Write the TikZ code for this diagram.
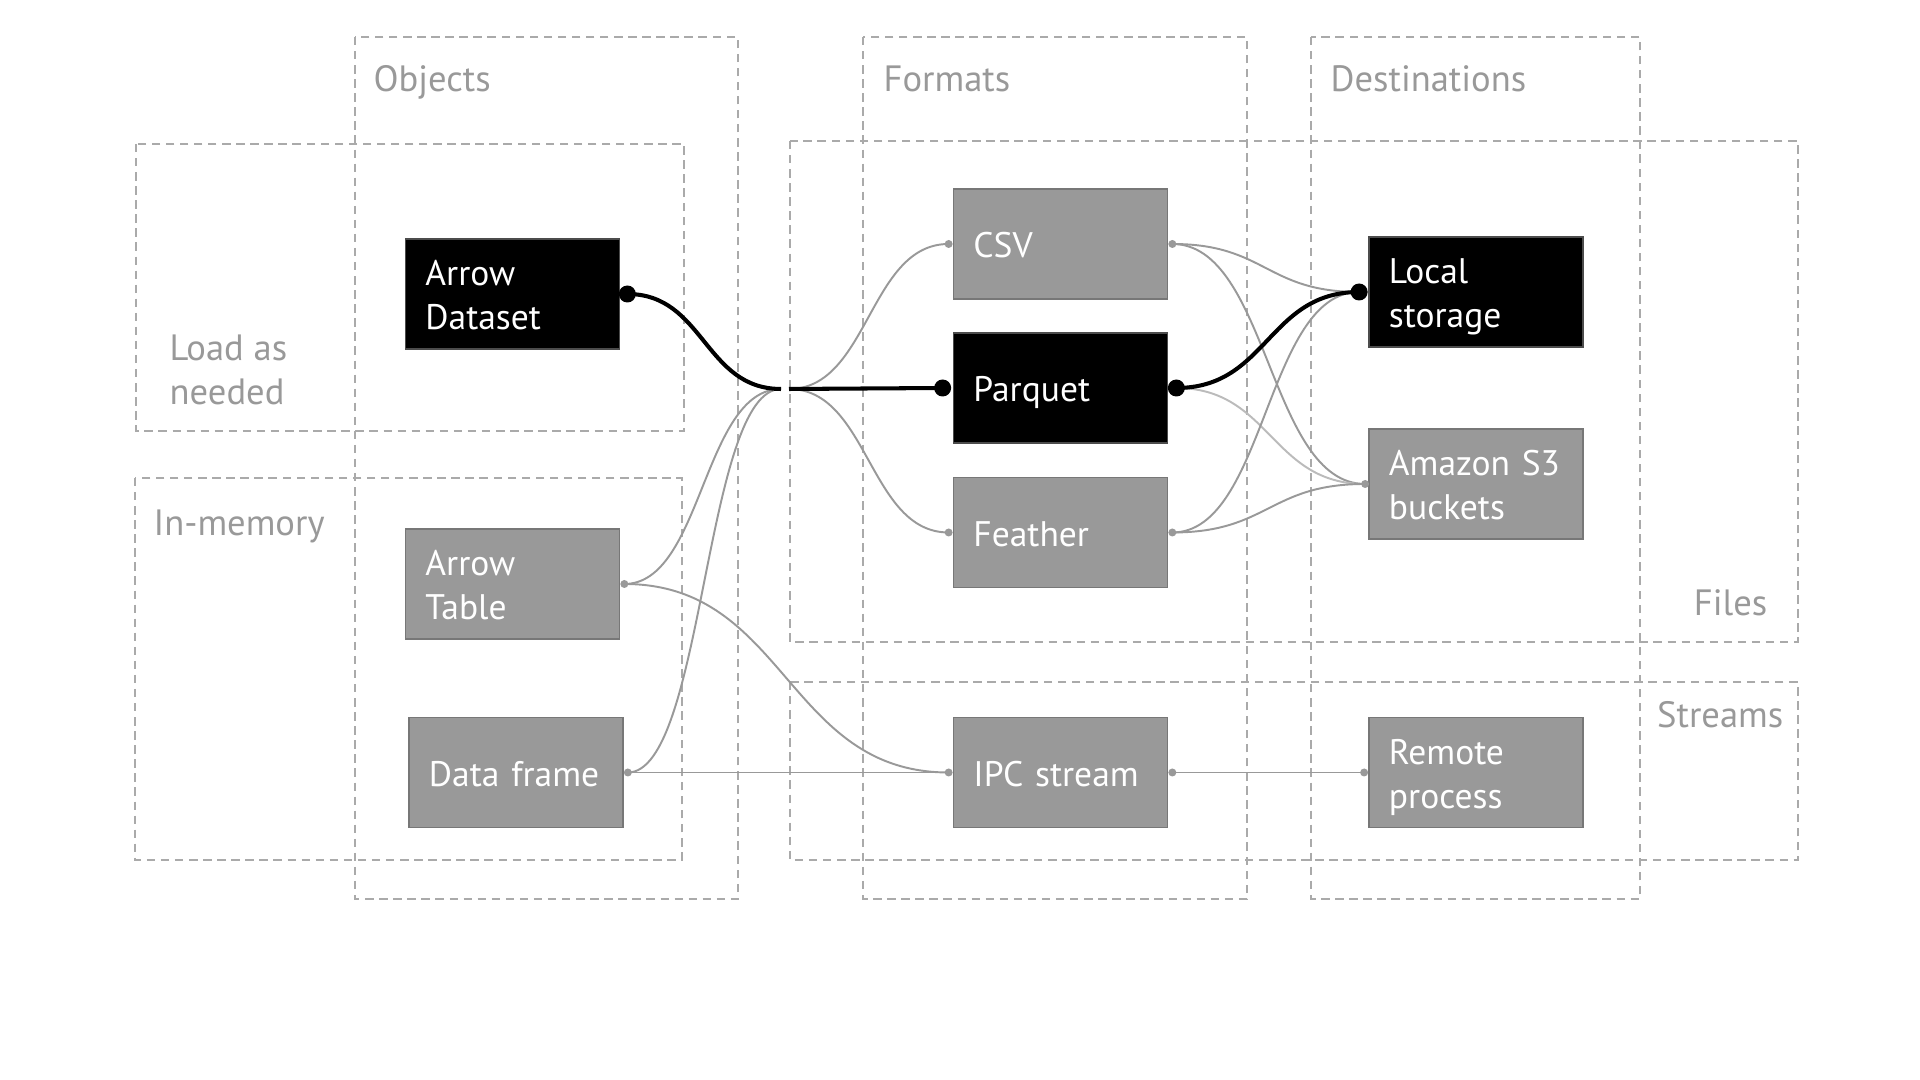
\documentclass[tikz,border=0pt]{standalone}
\usepackage{fontspec}
\setmainfont{PT Sans}
\usetikzlibrary{calc}
\definecolor{boxgray}{HTML}{999999}
\definecolor{boxedge}{HTML}{777777}
\definecolor{linegray}{HTML}{999999}
\definecolor{lightline}{HTML}{BBBBBB}
\definecolor{dashgray}{HTML}{AAAAAA}
\definecolor{labelgray}{HTML}{999999}
\newcommand\mytopstrut{\rule{0pt}{10.5pt}}
\newcommand\mybotstrut{\rule[-2.7pt]{0pt}{2.7pt}}
\tikzset{
  frame/.style={draw=dashgray, line width=0.45pt, dash pattern=on 2.4pt off 1.6pt},
  grp/.style={text=labelgray, inner sep=0pt, font=\fontsize{10.4pt}{12.5pt}\selectfont},
  box/.style={rectangle, text width=1.74cm, inner xsep=0.2cm, inner ysep=0pt,
     minimum height=1.10cm, align=left, font=\fontsize{10.1pt}{12.5pt}\selectfont, line width=0.45pt,
     execute at begin node=\mytopstrut, execute at end node=\mybotstrut},
  graybox/.style={box, fill=boxgray, draw=boxedge, text=white},
  blackbox/.style={box, fill=black, draw=black!70, text=white},
  gl/.style={draw=linegray, line width=0.55pt},
  ll/.style={draw=lightline, line width=0.55pt},
  bl/.style={draw=black, line width=1.15pt},
  hc/.style={to path={let \p1=(\tikztostart), \p2=(\tikztotarget) in
     .. controls ({0.5*\x1+0.5*\x2},\y1) and ({0.5*\x1+0.5*\x2},\y2) .. (\tikztotarget) \tikztonodes}},
  gdot/.style={fill=linegray, draw=none, circle, inner sep=0pt, minimum size=0.08cm},
  bdot/.style={fill=black, draw=none, circle, inner sep=0pt, minimum size=0.17cm}
}
\begin{document}
\begin{tikzpicture}[x=0.01cm, y=-0.01cm]
\useasboundingbox (0,0) rectangle (1920,1080);
\fill[white] (0,0) rectangle (1920,1080);

% group frames
\draw[frame] (355,37) rectangle (738,899);
\draw[frame] (863,37) rectangle (1247,899);
\draw[frame] (1311,37) rectangle (1640,899);
\draw[frame] (136,144) rectangle (684,431);
\draw[frame] (135,478) rectangle (682,860);
\draw[frame] (790,141) rectangle (1798,642);
\draw[frame] (790,682) rectangle (1798,860);

% group labels
\node[grp, anchor=base west] (lobj) at (373,92) {Objects};
\node[grp, anchor=base west] (lfmt) at (883,92) {Formats};
\node[grp, anchor=base west] (ldst) at (1330,92) {Destinations};
\node[grp, anchor=west, align=left] (lload) at (169,370) {Load as\\needed};
\node[grp, anchor=base west] (lmem) at (153,536) {In-memory};
\node[grp, anchor=base east] (lfiles) at (1768,616) {Files};
\node[grp, anchor=base east] (lstr) at (1784,728) {Streams};

% nodes
\node[blackbox] (ds) at (512.5,294) {Arrow\\Dataset};
\node[graybox] (tab) at (512.5,584) {Arrow\\Table};
\node[graybox] (df) at (516,772.5) {Data~frame};
\node[graybox] (csv) at (1060.5,244) {CSV};
\node[blackbox] (parq) at (1060.5,388) {Parquet};
\node[graybox] (feat) at (1060.5,532.5) {Feather};
\node[graybox] (ipc) at (1060.5,772.5) {IPC~stream};
\node[blackbox] (local) at (1476,292) {Local\\storage};
\node[graybox] (s3) at (1476,484) {Amazon~S3\\buckets};
\node[graybox] (rem) at (1476,772.5) {Remote\\process};

% connector end points
\coordinate (dsE) at ([xshift=0.07cm]ds.east);
\coordinate (tabE) at ([xshift=0.04cm]tab.east);
\coordinate (dfE) at ([xshift=0.04cm]df.east);
\coordinate (jL) at (781,389);
\coordinate (jR) at (789,389);
\coordinate (csvW) at ([xshift=-0.04cm]csv.west);
\coordinate (parqW) at ([xshift=-0.1cm]parq.west);
\coordinate (featW) at ([xshift=-0.04cm]feat.west);
\coordinate (csvE) at ([xshift=0.04cm]csv.east);
\coordinate (parqE) at ([xshift=0.08cm]parq.east);
\coordinate (featE) at ([xshift=0.04cm]feat.east);
\coordinate (ipcW) at ([xshift=-0.04cm]ipc.west);
\coordinate (ipcE) at ([xshift=0.04cm]ipc.east);
\coordinate (locW) at ([xshift=-0.09cm]local.west);
\coordinate (s3W) at ([xshift=-0.03cm]s3.west);
\coordinate (remW) at ([xshift=-0.04cm]rem.west);

% gray connectors
\draw[gl] (tabE) to[hc] (jL);
\draw[gl] (dfE) to[hc] (jL);
\draw[gl] (tabE) to[hc] (ipcW);
\draw[gl] (dfE) -- (ipcW);
\draw[gl] (jR) to[hc] (csvW);
\draw[gl] (jR) to[hc] (featW);
\draw[gl] (csvE) to[hc] (locW);
\draw[gl] (csvE) to[hc] (s3W);
\draw[ll] (parqE) to[hc] (s3W);
\draw[gl] (featE) to[hc] (locW);
\draw[gl] (featE) to[hc] (s3W);
\draw[gl] (ipcE) -- (remW);

% black connectors
\draw[bl] (dsE) to[hc] (jL);
\draw[bl] (jR) -- (parqW);
\draw[bl] (parqE) to[hc] (locW);

% dots
\node[bdot] (d1) at (dsE) {};
\node[bdot] (d2) at (parqW) {};
\node[bdot] (d3) at (parqE) {};
\node[bdot] (d4) at (locW) {};
\node[gdot] (d5) at (tabE) {};
\node[gdot] (d6) at (dfE) {};
\node[gdot] (d7) at (csvW) {};
\node[gdot] (d8) at (featW) {};
\node[gdot] (d9) at (csvE) {};
\node[gdot] (d10) at (featE) {};
\node[gdot] (d11) at (s3W) {};
\node[gdot] (d12) at (ipcW) {};
\node[gdot] (d13) at (ipcE) {};
\node[gdot] (d14) at (remW) {};
\end{tikzpicture}
\end{document}
